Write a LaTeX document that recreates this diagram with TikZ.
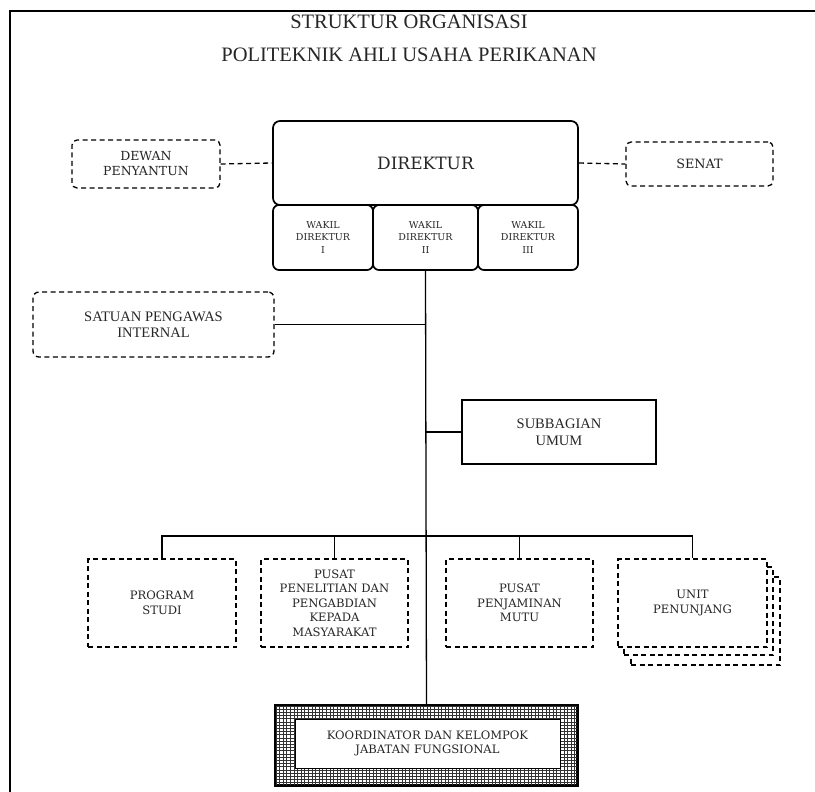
\documentclass[tikz,border=0pt]{standalone}
\usepackage{fontspec}
\setmainfont{Liberation Serif}
\newfontfamily\boxfont{DejaVu Serif}
\usetikzlibrary{positioning}
\usepackage{xcolor}

\tikzset{
  box/.style={draw, align=center, inner sep=0pt, text=black!85, fill=white},
  roundbox/.style={box, rounded corners=7pt, line width=1.7pt},
  dashbox/.style={box, line width=1.3pt, dash pattern=on 5pt off 3.5pt},
  smalltext/.style={font=\boxfont\fontsize{11.6}{14.5}\selectfont},
  line/.style={line width=1.3pt},
}

\begin{document}
\begin{tikzpicture}[x=1pt, y=-1pt]
  \useasboundingbox (0,0) rectangle (815,792);

  % page frame
  \draw[line width=1.3pt] (10,792) -- (10,11) -- (815,11);

  % title
  \node[font=\fontsize{20.5}{22}\selectfont, text=black!85] (title1) at (409,22) {STRUKTUR ORGANISASI};
  \node[font=\fontsize{20.5}{22}\selectfont, text=black!85] (title2) at (409,55) {POLITEKNIK AHLI USAHA PERIKANAN};

  % direktur and wakil direktur
  \node[roundbox, minimum width=305pt, minimum height=84pt,
        font=\boxfont\fontsize{17}{20}\selectfont] (direktur) at (425.5,163) {DIREKTUR};
  \begin{scope}[every node/.style={roundbox, rounded corners=6pt, minimum height=65pt,
        font=\boxfont\fontsize{9.5}{12.5}\selectfont}]
    \node[minimum width=100pt] (wakil1) at (323,237.5) {WAKIL\\DIREKTUR\\I};
    \node[minimum width=105pt] (wakil2) at (425.5,237.5) {WAKIL\\DIREKTUR\\II};
    \node[minimum width=100pt] (wakil3) at (528,237.5) {WAKIL\\DIREKTUR\\III};
  \end{scope}

  % dewan penyantun and senat
  \node[dashbox, rounded corners=5pt, minimum width=148pt, minimum height=48pt,
        font=\boxfont\fontsize{12.5}{15}\selectfont] (dewan) at (146,164) {DEWAN\\PENYANTUN};
  \node[dashbox, rounded corners=5pt, minimum width=147pt, minimum height=44pt,
        font=\boxfont\fontsize{12.8}{15}\selectfont] (senat) at (699.5,164) {SENAT};
  \draw[line, dash pattern=on 5pt off 3.5pt] (dewan.east) -- (direktur.west);
  \draw[line, dash pattern=on 5pt off 3.5pt] (direktur.east) -- (senat.west);

  % satuan pengawas internal and subbagian umum
  \node[dashbox, rounded corners=6pt, minimum width=241pt, minimum height=65pt,
        font=\fontsize{14.5}{16}\selectfont] (satuan) at (153.5,324.5) {SATUAN PENGAWAS\\INTERNAL};
  \node[box, line width=1.3pt, minimum width=194pt, minimum height=64pt,
        font=\fontsize{14.5}{17}\selectfont] (subbagian) at (559,432) {SUBBAGIAN\\UMUM};

  % bottom row
  \node[dashbox, smalltext, minimum width=148pt, minimum height=88pt] (prodi) at (162,603) {PROGRAM\\STUDI};
  \node[dashbox, smalltext, minimum width=147pt, minimum height=88pt] (penelitian) at (334.5,603)
    {PUSAT\\PENELITIAN DAN\\PENGABDIAN\\KEPADA\\MASYARAKAT};
  \node[dashbox, smalltext, minimum width=147pt, minimum height=88pt] (penjaminan) at (519.5,603)
    {PUSAT\\PENJAMINAN\\MUTU};
  % unit penunjang, stacked
  \node[dashbox, minimum width=149pt, minimum height=88pt] (unit3) at (705.5,621) {};
  \node[dashbox, minimum width=149pt, minimum height=88pt] (unit2) at (698.5,611) {};
  \node[dashbox, smalltext, minimum width=149pt, minimum height=88pt] (unit) at (692.5,603)
    {UNIT\\PENUNJANG};

  % koordinator, hatched frame
  \node[box, line width=1.6pt, minimum width=301pt, minimum height=79pt] (koordinator) at (426.5,745.5) {};
  \begin{scope}
    \clip (koordinator.south west) rectangle (koordinator.north east);
    \foreach \x in {276,279.6,...,580}
      \draw[line width=0.7pt, black!80] (\x,700) -- (\x,790);
    \foreach \y in {706,709.2,...,790}
      \draw[line width=0.7pt, black!80] (270,\y) -- (580,\y);
  \end{scope}
  \draw[line width=1.6pt] (koordinator.south west) rectangle (koordinator.north east);
  \node[box, line width=0.8pt, smalltext, minimum width=265pt, minimum height=49pt]
    (jabatan) at (427.5,743.5) {KOORDINATOR DAN KELOMPOK\\JABATAN FUNGSIONAL};

  % connectors
  \coordinate (bus) at (0,536);
  \draw[line] (wakil2.south) -- (koordinator.north);
  \draw[line] (satuan.east) -- (satuan.east -| wakil2.south);
  \draw[line] (subbagian.west) -- (subbagian.west -| wakil2.south);
  \draw[line] (prodi.north) |- (bus -| unit.north) -- (unit.north);
  \draw[line] (penelitian.north) -- (penelitian.north |- bus);
  \draw[line] (penjaminan.north) -- (penjaminan.north |- bus);
\end{tikzpicture}
\end{document}
